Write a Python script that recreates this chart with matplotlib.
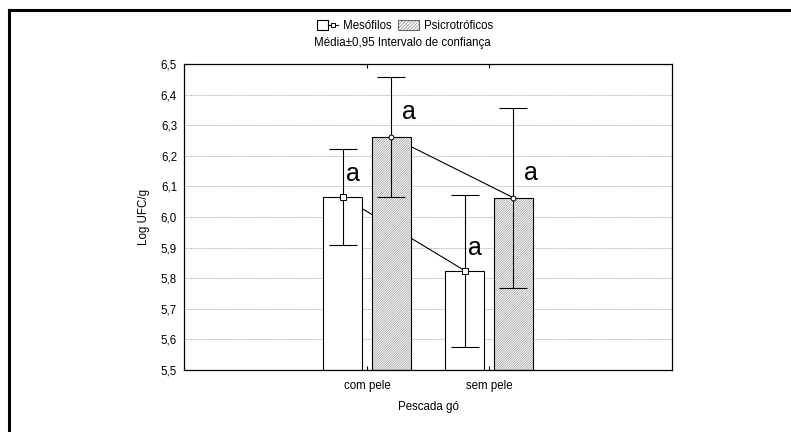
import numpy as np
import matplotlib
matplotlib.use('Agg')
import matplotlib.pyplot as plt
from matplotlib.patches import Patch
from matplotlib.lines import Line2D
from matplotlib.legend_handler import HandlerTuple

plt.rcParams['font.family'] = ['Liberation Sans', 'DejaVu Sans']
plt.rcParams['hatch.linewidth'] = 0.4

groups = ['com pele', 'sem pele']
meso_mean = [6.066, 5.825]
meso_low = [5.908, 5.576]
meso_high = [6.223, 6.072]
psic_mean = [6.262, 6.063]
psic_low = [6.066, 5.767]
psic_high = [6.458, 6.356]
letters_meso = ['a', 'a']
letters_psic = ['a', 'a']

fs = 8.3

fig = plt.figure(figsize=(7.91, 4.32), dpi=100)
ax = fig.add_axes([184/791, 1-370/432, (672-184)/791, (370-64)/432])

x = np.arange(len(groups))
off = 0.2
w = 0.325
xm = x - off
xp = x + off

# lines joining the means (behind bars)
ax.plot(xm, meso_mean, color='black', lw=0.8, zorder=1)
ax.plot(xp, psic_mean, color='black', lw=0.8, zorder=1)

ax.bar(xm, np.array(meso_mean) - 5.5, bottom=5.5, width=w, color='white',
       edgecolor='black', lw=0.8, zorder=2)
ax.bar(xp, np.array(psic_mean) - 5.5, bottom=5.5, width=w, color='white',
       edgecolor='#808080', hatch='//////////////', lw=0, zorder=2)
ax.bar(xp, np.array(psic_mean) - 5.5, bottom=5.5, width=w, fill=False,
       edgecolor='black', lw=0.8, zorder=2.1)

for xs, m, lo, hi in [(xm, meso_mean, meso_low, meso_high),
                      (xp, psic_mean, psic_low, psic_high)]:
    m = np.array(m)
    ax.errorbar(xs, m, yerr=[m - np.array(lo), np.array(hi) - m], fmt='none',
                ecolor='black', elinewidth=0.8, capsize=10, capthick=0.8, zorder=3)

ax.plot(xm, meso_mean, ls='none', marker='s', ms=4, mfc='white', mec='black',
        mew=0.7, zorder=4)
ax.plot(xp, psic_mean, ls='none', marker='o', ms=3.5, mfc='white', mec='black',
        mew=0.7, zorder=4)

for xi, m, t in zip(xm, meso_mean, letters_meso):
    ax.text(xi + 0.03, m + 0.075, t, fontsize=18, ha='left', va='center', zorder=5)
for xi, m, t in zip(xp, psic_mean, letters_psic):
    ax.text(xi + 0.09, m + 0.08, t, fontsize=18, ha='left', va='center', zorder=5)

ax.set_xlim(-1.5, 2.5)
ax.set_ylim(5.5, 6.5)
yt = np.arange(5.5, 6.51, 0.1)
ax.set_yticks(yt)
ax.set_yticklabels([f'{v:.1f}'.replace('.', ',') for v in yt], fontsize=fs)
ax.set_xticks(x)
ax.set_xticklabels(groups, fontsize=fs)
ax.tick_params(axis='y', length=0, pad=5)
ax.tick_params(axis='x', direction='in', length=3, top=True, pad=7, width=0.8)
ax.yaxis.grid(True, ls=(0, (1, 1)), color='#999999', lw=0.6, zorder=0)
ax.set_axisbelow(True)
for s in ax.spines.values():
    s.set_linewidth(0.9)

ax.set_ylabel('Log UFC/g', fontsize=fs, labelpad=8)
ax.set_xlabel('Pescada gó', fontsize=fs, labelpad=7)

h_meso = (Patch(facecolor='white', edgecolor='black', lw=0.8),
          Line2D([], [], color='black', lw=0.8, marker='s', ms=3.5,
                 mfc='white', mec='black', mew=0.7))
h_psic = Patch(facecolor='white', edgecolor='#666666', hatch='//////////', lw=0.8)
fig.legend([h_meso, h_psic], ['Mesófilos', 'Psicrotróficos'],
           handler_map={tuple: HandlerTuple(ndivide=None, pad=0)},
           loc='center', bbox_to_anchor=(405/791, 1-26/432), ncol=2,
           frameon=False, fontsize=fs, handlelength=1.8, handleheight=0.9,
           handletextpad=0.4, columnspacing=0.6)
fig.text(402/791, 1-43/432, 'Média±0,95 Intervalo de confiança', fontsize=fs,
         ha='center', va='center')

# partial outer frame (top and left)
fig.add_artist(Line2D([9/791, 1], [1-10/432, 1-10/432], color='black', lw=2.2,
                      transform=fig.transFigure))
fig.add_artist(Line2D([9/791, 9/791], [0, 1-10/432], color='black', lw=2.2,
                      transform=fig.transFigure))

fig.savefig('out.png', dpi=100)
